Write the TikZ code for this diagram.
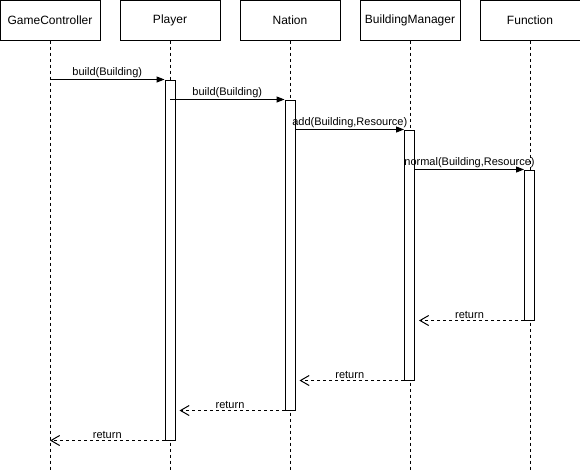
\documentclass[tikz,border=0pt]{standalone}
\usepackage{fontspec}
\setmainfont{Liberation Sans}
\usetikzlibrary{arrows.meta,positioning,fit,backgrounds}

\begin{document}
\begin{tikzpicture}[
  x=0.75pt, y=-0.75pt,
  head/.style={draw, line width=0.75pt, minimum width=75pt, minimum height=30pt, inner sep=0pt, font=\fontsize{9}{11}\selectfont},
  bar/.style={draw, fill=white, line width=0.75pt, inner sep=0pt},
  life/.style={line width=0.6pt, dash pattern=on 2.25pt off 2.25pt},
  call/.style={-{Triangle[length=6pt, width=4.5pt]}, line width=0.75pt},
  ret/.style={-{Straight Barb[length=6.5pt, width=7.5pt]}, line width=0.75pt, dash pattern=on 2.25pt off 2.25pt, shorten >=3pt},
  msg/.style={above, font=\fontsize{8.25}{10}\selectfont, inner sep=1pt},
]
\useasboundingbox (0,0) rectangle (580,471);
\coordinate (bottom) at (0,471);
% lifeline heads
\node[head] (gc) at (50,20) {GameController};
\node[head, right=14.25pt of gc] (player) {Player};
\node[head, right=14.25pt of player] (nation) {Nation};
\node[head, right=14.25pt of nation] (bm) {BuildingManager};
\node[head, right=14.25pt of bm] (func) {Function};
% activations
\node[bar, fit={(165,80)(175,440)}] (pAct) {};
\node[bar, fit={(285,100)(295,410)}] (nAct) {};
\node[bar, fit={(404.5,130)(414.5,380)}] (bAct) {};
\node[bar, fit={(524.5,170)(534.5,320)}] (fAct) {};
\begin{scope}[on background layer]
\foreach \n in {gc,player,nation,bm,func}
  \draw[life] (\n.south) -- (\n.south |- bottom);
\end{scope}
% calls
\draw[call] (gc |- pAct.north) -- node[msg] {build(Building)} (pAct.north west);
\draw[call] (player |- nAct.north) -- node[msg] {build(Building)} (nAct.north west);
\draw[call] (nAct.east |- bAct.north) -- node[msg] {add(Building,Resource)} (bAct.north west);
\draw[call] (bAct.east |- fAct.north) -- node[msg] {normal(Building,Resource)} (fAct.north west);
% returns
\draw[ret] (fAct.south west) -- node[msg] {return} (bAct.east |- fAct.south);
\draw[ret] (bAct.south west) -- node[msg] {return} (nAct.east |- bAct.south);
\draw[ret] (nAct.south west) -- node[msg] {return} (pAct.east |- nAct.south);
\draw[ret, shorten >=0pt] (pAct.south west) -- node[msg] {return} (gc |- pAct.south);
\end{tikzpicture}
\end{document}
